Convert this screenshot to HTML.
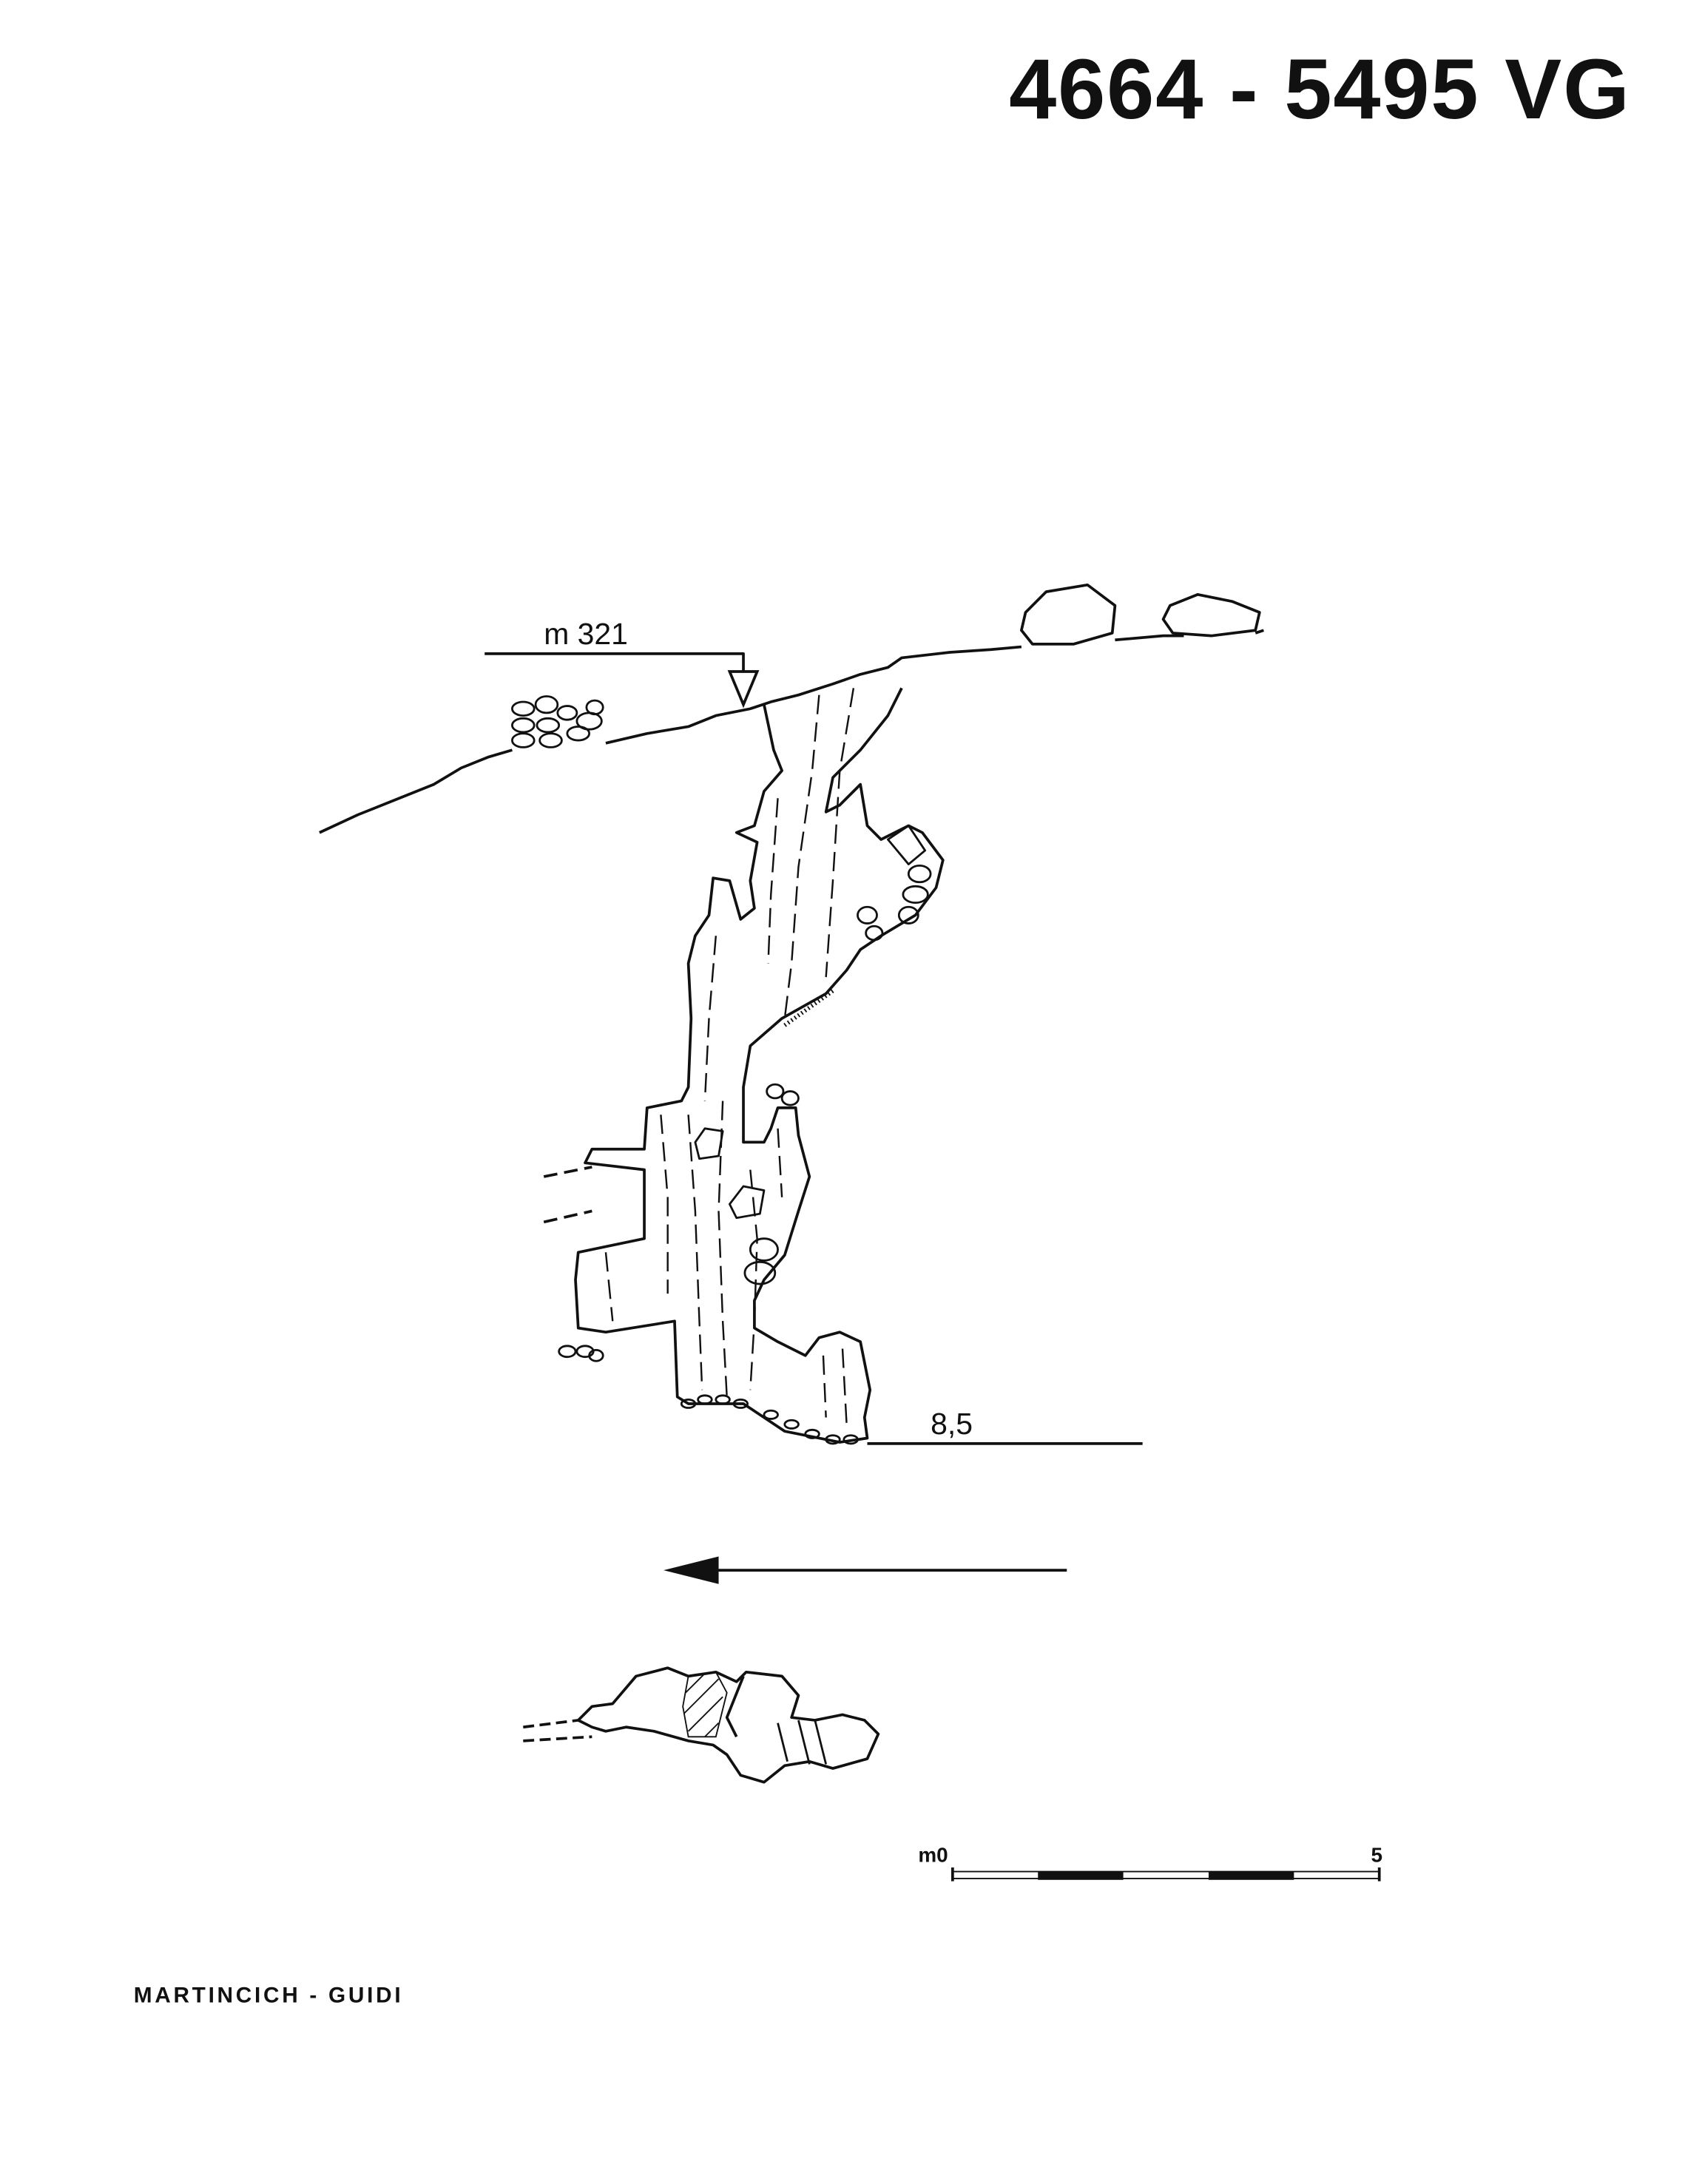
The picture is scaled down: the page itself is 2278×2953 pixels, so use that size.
<!DOCTYPE html>
<html><head><meta charset="utf-8"><style>
html,body{margin:0;padding:0;background:#fff;}
svg{display:block;}
text{font-family:"Liberation Sans",sans-serif;fill:#111;}
</style></head><body>
<svg width="2278" height="2953" viewBox="0 0 1224 1587" xmlns="http://www.w3.org/2000/svg">
<rect width="1224" height="1587" fill="#fff"/>
<text x="733" y="86" font-size="62" font-weight="bold" letter-spacing="1">4664 - 5495 VG</text>

<g fill="none" stroke="#111" stroke-width="2" stroke-linejoin="round">
<!-- surface -->
<path d="M232,605 L260,592 L290,580 L315,570 L335,558 L355,550 L372,545 M440,540 L470,533 L500,528 L520,520 L545,515 L560,510 L580,505 L605,497 L625,490 L645,485 L655,478 L690,474 L720,472 L742,470 M810,465 L845,462 L860,462 M912,460 L918,458"/>
<!-- boulders surface -->
<path d="M745,445 L760,430 L790,425 L810,440 L808,460 L780,468 L750,468 L742,458 Z"/>
<path d="M850,440 L870,432 L895,437 L915,445 L912,458 L880,462 L852,460 L845,450 Z"/>
<g stroke-width="1.5">
<ellipse cx="380" cy="515" rx="8" ry="5"/><ellipse cx="397" cy="512" rx="8" ry="6"/><ellipse cx="412" cy="518" rx="7" ry="5"/>
<ellipse cx="380" cy="527" rx="8" ry="5"/><ellipse cx="398" cy="527" rx="8" ry="5"/><ellipse cx="428" cy="524" rx="9" ry="6"/>
<ellipse cx="380" cy="538" rx="8" ry="5"/><ellipse cx="400" cy="538" rx="8" ry="5"/><ellipse cx="420" cy="533" rx="8" ry="5"/><ellipse cx="432" cy="514" rx="6" ry="5"/>
</g>
<!-- cave outline -->
<path d="M555,512 L562,545 L568,560 L555,575 L548,600 L535,605 L550,612 L545,640 L548,660 L538,668 L530,640 L518,638 L515,665 L505,680 L500,700 L502,740 L500,790 L495,800 L470,805 L468,835 L430,835 L425,845 L468,850 L468,900 L420,910 L418,930 L420,965 L440,968 L490,960 L492,1015 L500,1020 L540,1020 L570,1040 L610,1048 L630,1045 L628,1030 L632,1010 L625,975 L610,968 L595,972 L585,985 L565,975 L548,965 L548,945 L555,930 L570,912 L580,880 L588,855 L580,825 L578,805 L565,805 L560,820 L555,830 L540,830 L540,790 L545,760 L568,740 L600,722 L615,705 L625,690 L640,680 L665,665 L680,645 L685,625 L670,605 L660,600 L640,610 L630,600 L625,570 L610,585 L600,590 L605,565 L625,545 L645,520 L655,500"/>
<path d="M395,855 L430,848 M395,888 L430,880" stroke-dasharray="10,5"/>
<!-- internal dashes -->
<g stroke-width="1.3" stroke-dasharray="14,6">
<path d="M595,505 L590,560 L580,630 L575,700 L570,740"/>
<path d="M620,500 L610,560 L605,640 L600,710"/>
<path d="M565,580 L560,650 L558,700"/>
<path d="M520,680 L515,740 L512,800"/>
<path d="M480,810 L485,870 L485,940"/>
<path d="M500,810 L505,880 L508,960 L510,1010"/>
<path d="M525,800 L522,880 L525,960 L528,1015"/>
<path d="M545,850 L550,900 L548,960 L545,1010"/>
<path d="M565,820 L568,870"/>
<path d="M598,985 L600,1030 M612,980 L615,1035"/>
<path d="M440,910 L445,960"/>
</g>
<path d="M570,745 L605,720" stroke-width="3" stroke-dasharray="1,2"/>
<!-- rocks inside -->
<g stroke-width="1.5">
<path d="M505,830 L512,820 L525,822 L522,840 L508,842 Z"/>
<path d="M530,875 L540,862 L555,865 L552,882 L535,885 Z"/>
<ellipse cx="555" cy="908" rx="10" ry="8"/><ellipse cx="552" cy="925" rx="11" ry="8"/>
<ellipse cx="563" cy="793" rx="6" ry="5"/><ellipse cx="574" cy="798" rx="6" ry="5"/>
<path d="M645,610 L660,600 L672,618 L660,628 Z"/>
<ellipse cx="668" cy="635" rx="8" ry="6"/><ellipse cx="665" cy="650" rx="9" ry="6"/><ellipse cx="660" cy="665" rx="7" ry="6"/>
<ellipse cx="630" cy="665" rx="7" ry="6"/><ellipse cx="635" cy="678" rx="6" ry="5"/>
<ellipse cx="412" cy="982" rx="6" ry="4"/><ellipse cx="425" cy="982" rx="6" ry="4"/><ellipse cx="433" cy="985" rx="5" ry="4"/>
<ellipse cx="500" cy="1020" rx="5" ry="3"/><ellipse cx="512" cy="1017" rx="5" ry="3"/><ellipse cx="525" cy="1017" rx="5" ry="3"/><ellipse cx="538" cy="1020" rx="5" ry="3"/>
<ellipse cx="560" cy="1028" rx="5" ry="3"/><ellipse cx="575" cy="1035" rx="5" ry="3"/><ellipse cx="590" cy="1042" rx="5" ry="3"/><ellipse cx="605" cy="1046" rx="5" ry="3"/><ellipse cx="618" cy="1046" rx="5" ry="3"/>
</g>
<!-- datum lines -->
<path d="M352,475 L540,475 L540,512"/>
<path d="M630,1049 L830,1049"/>
<path d="M775,1141 L500,1141"/>
<!-- plan -->
<path d="M420,1250 L430,1240 L445,1238 L462,1218 L485,1212 L500,1218 L520,1215 L535,1222 L542,1215 L568,1218 L580,1232 L575,1248 L592,1250 L612,1246 L628,1250 L638,1260 L630,1278 L605,1285 L588,1280 L570,1283 L555,1295 L538,1290 L528,1275 L518,1268 L500,1265 L475,1258 L455,1255 L440,1258 L430,1255 Z"/>
<path d="M380,1255 L420,1250 M380,1265 L430,1262" stroke-dasharray="8,4"/>
<path d="M540,1218 L528,1248 L535,1262"/>
<path d="M565,1252 L572,1280 M580,1250 L588,1282 M592,1250 L600,1282" stroke-width="1.5"/>
<!-- scale -->
<path d="M692,1357 L692,1367 M1002,1357 L1002,1367"/>
<rect x="692" y="1360" width="310" height="5" stroke-width="1"/>
</g>
<path d="M500,1218 L520,1215 L528,1230 L520,1262 L500,1262 L496,1240 Z" fill="none" stroke="#111" stroke-width="1"/>
<g stroke="#111" stroke-width="1"><path d="M498,1230 L512,1216 M497,1245 L522,1220 M500,1258 L525,1233 M512,1262 L522,1252"/></g>
<polygon points="482,1141 522,1131 522,1151" fill="#111"/>
<polygon points="530,488 540,512 550,488" fill="#fff" stroke="#111" stroke-width="2"/>
<g fill="#111"><rect x="754" y="1360" width="62" height="6"/><rect x="878" y="1360" width="62" height="6"/></g>

<text x="395" y="468" font-size="22">m 321</text>
<text x="676" y="1042" font-size="22">8,5</text>
<text x="667" y="1353" font-size="15" font-weight="bold">m0</text>
<text x="996" y="1353" font-size="15" font-weight="bold">5</text>
<text x="97" y="1455" font-size="16" font-weight="bold" letter-spacing="2">MARTINCICH - GUIDI</text>
</svg>
</body></html>
